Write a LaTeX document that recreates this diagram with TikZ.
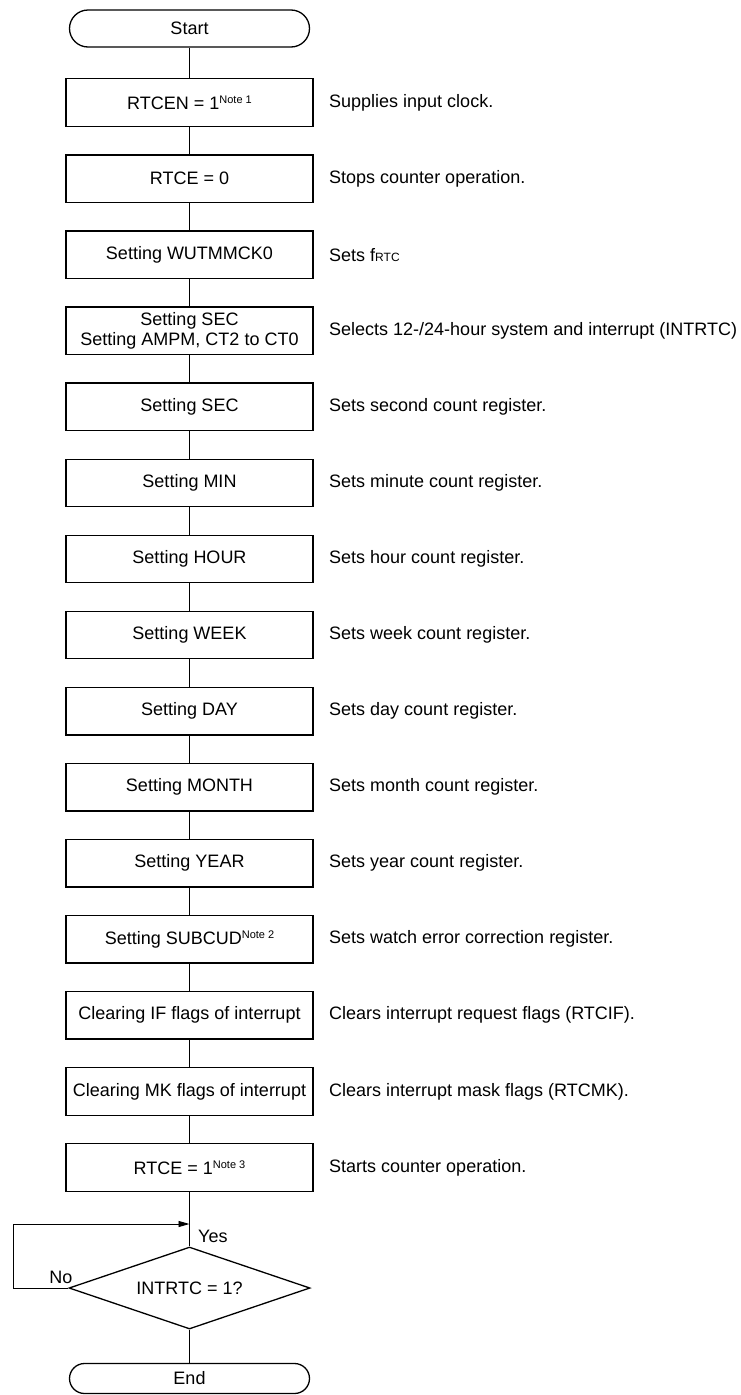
\documentclass[tikz,border=0pt]{standalone}
\usepackage{fontspec}
\setmainfont{Liberation Sans}
\usetikzlibrary{shapes.geometric,arrows.meta}
\newcommand{\notesup}[1]{\raisebox{6pt}{\fontsize{11}{11}\selectfont Note #1}}
\begin{document}
\begin{tikzpicture}[x=1pt,y=-1pt,
  font=\fontsize{18}{21}\selectfont,
  box/.style={draw, line width=1.3pt, minimum width=247pt, minimum height=47.5pt, inner sep=2pt, align=center},
  term/.style={draw, line width=1.3pt, minimum width=240pt, minimum height=37pt, inner sep=0pt},
  dec/.style={draw, diamond, aspect=2.94, line width=1.3pt, minimum width=241pt, minimum height=82pt, inner sep=0pt},
  side/.style={anchor=west, inner sep=0pt},
  link/.style={line width=0.9pt}]
\useasboundingbox (0,0) rectangle (740,1395);

\node[term, rounded corners=18.5pt] (start) at (189.5,28.5) {Start};

\node[box] (b0) at (189.5,102.5) {RTCEN = 1\notesup{1}};
\node[box] (b1) at (189.5,178.6) {RTCE = 0};
\node[box] (b2) at (189.5,254.6) {Setting WUTMMCK0};
\node[box, font=\fontsize{18}{20}\selectfont] (b3) at (189.5,330.7) {Setting SEC\\Setting AMPM, CT2 to CT0};
\node[box] (b4) at (189.5,406.8) {Setting SEC};
\node[box] (b5) at (189.5,482.9) {Setting MIN};
\node[box] (b6) at (189.5,558.9) {Setting HOUR};
\node[box] (b7) at (189.5,635.0) {Setting WEEK};
\node[box] (b8) at (189.5,711.1) {Setting DAY};
\node[box] (b9) at (189.5,787.1) {Setting MONTH};
\node[box] (b10) at (189.5,863.2) {Setting YEAR};
\node[box] (b11) at (189.5,939.3) {Setting SUBCUD\notesup{2}};
\node[box] (b12) at (189.5,1015.3) {Clearing IF flags of interrupt};
\node[box] (b13) at (189.5,1091.4) {Clearing MK flags of interrupt};
\node[box] (b14) at (189.5,1167.5) {RTCE = 1\notesup{3}};

\node[dec] (d) at (189.5,1288) {INTRTC = 1?};
\node[term, minimum height=30pt, rounded corners=15pt] (end) at (189.5,1378.5) {End};

\node[side] (n0) at (329,102.5) {Supplies input clock.};
\node[side] (n1) at (329,178.6) {Stops counter operation.};
\node[side] (n2) at (329,254.6) {Sets f{\fontsize{12}{12}\selectfont RTC}};
\node[side] (n3) at (329,330.7) {Selects 12-/24-hour system and interrupt (INTRTC)};
\node[side] (n4) at (329,406.8) {Sets second count register.};
\node[side] (n5) at (329,482.9) {Sets minute count register.};
\node[side] (n6) at (329,558.9) {Sets hour count register.};
\node[side] (n7) at (329,635.0) {Sets week count register.};
\node[side] (n8) at (329,711.1) {Sets day count register.};
\node[side] (n9) at (329,787.1) {Sets month count register.};
\node[side] (n10) at (329,863.2) {Sets year count register.};
\node[side] (n11) at (329,939.3) {Sets watch error correction register.};
\node[side] (n12) at (329,1015.3) {Clears interrupt request flags (RTCIF).};
\node[side] (n13) at (329,1091.4) {Clears interrupt mask flags (RTCMK).};
\node[side] (n14) at (329,1167.5) {Starts counter operation.};

\draw[link] (start) -- (b0);
\foreach \a/\b in {0/1,1/2,2/3,3/4,4/5,5/6,6/7,7/8,8/9,9/10,10/11,11/12,12/13,13/14}
  \draw[link] (b\a) -- (b\b);
\draw[link] (b14) -- (d);
\draw[link] (d) -- (end);

\coordinate (lpa) at (13,1288);
\coordinate (lpb) at (13,1224);
\coordinate (lpc) at (189.5,1224);
\draw[link, -{Triangle[length=11pt,width=6pt]}] (d.west) -- (lpa) -- (lpb) -- (lpc);

\node (no) at (61,1277) {No};
\node[anchor=west, inner sep=0pt] (yes) at (198,1236) {Yes};
\end{tikzpicture}
\end{document}
